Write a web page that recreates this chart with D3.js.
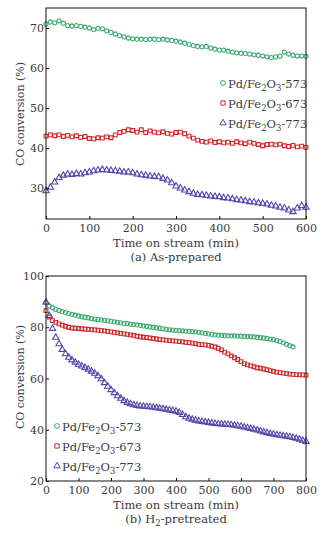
<!DOCTYPE html>
<html>
<head>
<meta charset="utf-8">
<script src="https://cdn.jsdelivr.net/npm/d3@7"></script>
<style>
  body { margin: 0; background: #fff; }
  svg text { font-family: "DejaVu Serif", "Liberation Serif", serif; fill: #3a3a3a; }
</style>
</head>
<body>
<svg id="chart" width="327" height="536"></svg>
<script>
// panel (a) as-prepared, one point every 10 min
let timeA = d3.range(0, 601, 10);
let a573 = [71.0, 71.5, 71.3, 71.8, 71.2, 70.6, 70.5, 70.6, 70.4, 70.2,
  70.0, 69.6, 69.9, 69.8, 69.3, 68.9, 68.5, 68.1, 67.8, 67.5,
  67.3, 67.2, 67.2, 67.1, 67.2, 67.2, 67.1, 67.2, 67.0, 66.9,
  66.7, 66.5, 66.2, 65.9, 65.6, 65.4, 65.3, 65.4, 65.0, 64.7,
  64.5, 64.5, 64.2, 64.0, 63.8, 63.7, 63.6, 63.5, 63.3, 63.2,
  63.0, 62.8, 62.6, 62.8, 63.0, 64.0, 63.5, 63.2, 63.0, 63.0, 62.9];
let a673 = [43.0, 43.3, 43.1, 43.3, 42.9, 43.2, 42.8, 43.1, 42.7, 42.9,
  42.4, 42.3, 42.6, 42.5, 42.8, 42.6, 43.3, 43.9, 44.2, 44.6,
  44.4, 44.0, 44.6, 43.9, 44.3, 44.0, 43.8, 44.1, 43.7, 43.5,
  43.9, 44.0, 43.6, 43.0, 42.5, 42.0, 41.7, 41.5, 41.8, 41.4,
  41.6, 41.3, 41.5, 41.2, 41.6, 41.3, 41.1, 41.5, 41.2, 40.9,
  40.6, 40.9, 41.0, 40.8, 41.0, 40.6, 40.4, 40.7, 40.3, 40.5, 40.2];
let a773 = [29.3, 30.2, 31.5, 32.6, 33.2, 33.5, 33.4, 33.6, 33.5, 33.8,
  34.0, 34.3, 34.5, 34.6, 34.5, 34.4, 34.3, 34.2, 34.0, 34.0,
  33.8, 33.5, 33.3, 33.2, 33.0, 32.9, 32.8, 32.4, 32.0, 31.3,
  30.5, 30.0, 29.5, 29.1, 28.7, 28.4, 28.3, 28.2, 28.0, 27.9,
  27.8, 27.6, 27.5, 27.3, 27.1, 27.0, 26.8, 26.6, 26.5, 26.3,
  26.2, 26.0, 25.7, 25.5, 25.2, 25.0, 24.5, 24.1, 25.0, 25.6, 25.2];

// panel (b) H2-pretreated
let timeB = d3.range(0, 801, 10);
let b573 = [89.5, 88.3, 87.6, 87.0, 86.5, 86.1, 85.7, 85.3, 85.0, 84.7,
  84.4, 84.1, 83.9, 83.7, 83.4, 83.2, 83.0, 82.9, 82.7, 82.5,
  82.3, 82.1, 81.9, 81.7, 81.5, 81.4, 81.2, 81.0, 80.9, 80.7,
  80.5, 80.3, 80.1, 80.0, 79.8, 79.6, 79.4, 79.2, 79.0, 78.9,
  78.8, 78.7, 78.6, 78.5, 78.4, 78.3, 78.2, 78.0, 77.8, 77.6,
  77.4, 77.2, 77.0, 76.9, 76.8, 76.7, 76.6, 76.6, 76.6, 76.5,
  76.5, 76.4, 76.3, 76.3, 76.2, 76.1, 75.9, 75.8, 75.6, 75.4,
  75.2, 74.8, 74.4, 73.9, 73.3, 72.8, 72.3];
let b673 = [86.5, 84.0, 82.6, 81.9, 81.3, 80.8, 80.4, 80.0, 79.7, 79.6,
  79.5, 79.4, 79.3, 79.2, 79.1, 79.0, 78.9, 78.7, 78.6, 78.4,
  78.2, 78.0, 77.8, 77.6, 77.4, 77.2, 77.0, 76.8, 76.5, 76.3,
  76.1, 76.0, 75.8, 75.6, 75.4, 75.2, 75.1, 75.0, 74.8, 74.7,
  74.6, 74.4, 74.3, 74.1, 74.0, 73.8, 73.6, 73.3, 73.2, 73.1,
  72.9, 72.6, 72.3, 71.8, 71.2, 70.3, 69.6, 68.8, 68.1, 67.4,
  66.6, 65.8, 65.3, 64.9, 64.6, 64.2, 64.0, 63.7, 63.4, 63.1,
  62.8, 62.5, 62.3, 62.1, 61.9, 61.7, 61.6, 61.5, 61.4, 61.4, 61.3];
let b773 = [89.8, 84.5, 79.5, 76.0, 73.5, 71.3, 69.6, 68.2, 67.2, 66.3,
  65.5, 64.8, 64.2, 63.6, 62.8, 62.0, 61.0, 59.8, 58.3, 56.9,
  55.6, 54.4, 53.2, 52.2, 51.3, 50.6, 50.1, 49.7, 49.4, 49.2,
  49.1, 49.0, 48.9, 48.7, 48.5, 48.3, 48.1, 47.9, 47.7, 47.5,
  47.2, 46.7, 45.9, 45.0, 44.4, 44.0, 43.7, 43.4, 43.2, 43.0,
  42.8, 42.6, 42.4, 42.3, 42.2, 42.1, 42.0, 41.9, 41.7, 41.5,
  41.3, 41.0, 40.7, 40.4, 40.1, 39.8, 39.5, 39.1, 38.8, 38.5,
  38.3, 38.0, 37.8, 37.6, 37.4, 37.2, 36.9, 36.6, 36.2, 35.8, 35.4];

let sampleNames = ["573", "673", "773"];
let colors = ["#3aa86e", "#d0282c", "#5446aa"];
let shapes = [d3.symbolCircle, d3.symbolSquare, d3.symbolTriangle];
let xTicksA = [0, 100, 200, 300, 400, 500, 600];
let yTicksA = [30, 40, 50, 60, 70];
let xTicksB = [0, 100, 200, 300, 400, 500, 600, 700, 800];
let yTicksB = [20, 40, 60, 80, 100];

const svg = d3.select("#chart");

function panel(opt) {
  let x = d3.scaleLinear().domain(opt.xDomain).range([46, 306]);
  let y = d3.scaleLinear().domain(opt.yDomain).range([opt.bottom, opt.top]);
  let g = svg.append("g");

  // series
  opt.series.forEach((vals, i) => {
    let sym = d3.symbol().type(shapes[i]).size(i == 2 ? 17 : 14);
    g.append("g").selectAll("path").data(vals).join("path")
      .attr("d", sym)
      .attr("transform", (d, j) => `translate(${x(opt.times[j])},${y(d)})`)
      .attr("fill", "none").attr("stroke", colors[i]).attr("stroke-width", 1.1);
  });

  // frame
  g.append("rect").attr("x", 46).attr("y", opt.top).attr("width", 260).attr("height", opt.bottom - opt.top)
    .attr("fill", "none").attr("stroke", "#111").attr("stroke-width", 1);

  let xa = g.append("g").attr("transform", `translate(0,${opt.bottom})`)
    .call(d3.axisBottom(x).tickValues(opt.xTicks).tickSize(-3).tickPadding(5).tickFormat(d3.format("d")));
  let ya = g.append("g").attr("transform", "translate(46,0)")
    .call(d3.axisLeft(y).tickValues(opt.yTicks).tickSize(-3).tickPadding(2).tickFormat(d3.format("d")));
  [xa, ya].forEach(a => {
    a.select(".domain").remove();
    a.selectAll("line").attr("stroke", "#111");
    a.selectAll("text").style("font-size", "11px").attr("fill", "#3a3a3a");
  });

  g.append("text").attr("x", 176).attr("y", opt.bottom + 28).attr("text-anchor", "middle")
    .style("font-size", "11.5px").text("Time on stream (min)");

  let cap = g.append("text").attr("x", 176).attr("y", opt.bottom + 42).attr("text-anchor", "middle")
    .style("font-size", "11.5px");
  opt.caption(cap);

  g.append("text").attr("transform", `translate(24,${opt.yLabelY}) rotate(-90)`).attr("text-anchor", "middle")
    .style("font-size", "11px").text("CO conversion (%)");

  // legend
  sampleNames.forEach((n, i) => {
    let ly = opt.legY + i * 20;
    g.append("path").attr("d", d3.symbol().type(shapes[i]).size(18)())
      .attr("transform", `translate(${opt.legX},${ly})`)
      .attr("fill", "none").attr("stroke", colors[i]).attr("stroke-width", 1);
    let t = g.append("text").attr("x", opt.legX + 5).attr("y", ly + 5).style("font-size", "11.5px");
    t.append("tspan").text("Pd/Fe");
    t.append("tspan").attr("dy", 3).style("font-size", "8.5px").text("2");
    t.append("tspan").attr("dy", -3).text("O");
    t.append("tspan").attr("dy", 3).style("font-size", "8.5px").text("3");
    t.append("tspan").attr("dy", -3).text("-" + n);
  });
}

panel({
  times: timeA, series: [a573, a673, a773],
  xDomain: [0, 600], yDomain: [22.3, 75], top: 8, bottom: 219,
  xTicks: xTicksA, yTicks: yTicksA, yLabelY: 114, legX: 223, legY: 83,
  caption: t => t.text("(a) As-prepared")
});

panel({
  times: timeB, series: [b573, b673, b773],
  xDomain: [0, 800], yDomain: [20, 100], top: 276, bottom: 481,
  xTicks: xTicksB, yTicks: yTicksB, yLabelY: 377, legX: 57, legY: 426,
  caption: t => {
    t.append("tspan").text("(b) H");
    t.append("tspan").attr("dy", 3).style("font-size", "8.5px").text("2");
    t.append("tspan").attr("dy", -3).text("-pretreated");
  }
});
</script>
</body>
</html>
